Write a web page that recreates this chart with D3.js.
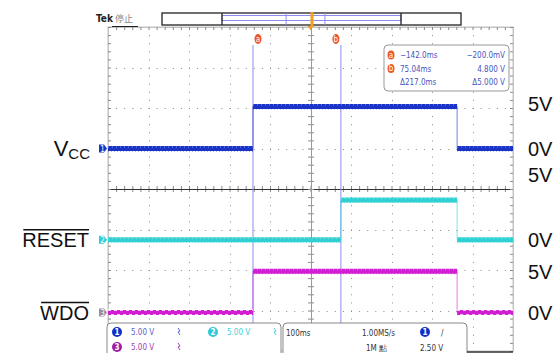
<!DOCTYPE html>
<html>
<head>
<meta charset="utf-8">
<script src="https://cdn.jsdelivr.net/npm/d3@7"></script>
<style>
  body { margin: 0; background: #fff; }
  svg { display: block; }
  .sm { font-family: "DejaVu Sans Condensed", "Liberation Sans Narrow", sans-serif; font-size: 8px; }
  .big { font-family: "Liberation Sans", Arial, sans-serif; font-size: 20px; fill: #111; }
</style>
</head>
<body>
<svg id="scope" width="560" height="353"></svg>
<script>
// time in ms, volts per channel
var timeDomain = [-500, 500]
var divDomain = [-4, 4]
var voltsPerDiv = 5

var vccTimes  = [-500, -142, -142, 362, 362, 500]
var vccVolts  = [0, 0, 5.2, 5.2, 0, 0]
var rstTimes  = [-500, 75, 75, 362, 362, 500]
var rstVolts  = [0, 0, 4.9, 4.9, 0, 0]
var wdoTimes  = [-500, -142, -142, 362, 362, 500]
var wdoVolts  = [0, 0, 5.1, 5.1, 0, 0]

var chNames   = ['1', '2', '3']
var chOffsets = [1.0, -1.25, -3.05]   // ground position, in divisions
var chColors  = ['#1a34c8', '#2fd0d4', '#d21ed2']

var cursorTimes = [-142, 75.04]
var cursorLabels = ['a', 'b']
var readoutRows = [['−142.0ms', '−200.0mV'], ['75.04ms', '4.800 V'], ['Δ217.0ms', 'Δ5.000 V']]

var leftLabels  = ['V', 'RESET', 'WDO']
var rightLabels = ['5V', '0V', '5V', '0V', '5V', '0V']
var rightLabelDiv = [2.1, 1.0, 0.35, -1.25, -2.05, -3.05]   // layout: where each label sits

var svg = d3.select('#scope')
var x = d3.scaleLinear().domain(timeDomain).range([108, 513])
var y = d3.scaleLinear().domain(divDomain).range([351, 27])
var step = (x(100) - x(0)) / 5

// ---- graticule
var grid = svg.append('g')
var xDivs = d3.range(-4, 5).map(function(d){ return d * 100 })
var yDivs = d3.range(-3, 4)
var minorX = d3.range(-500, 501, 20)
var minorY = d3.range(-4, 4.01, 0.2)

grid.selectAll('line.vdot').data(xDivs.filter(function(d){ return d !== 0 })).enter()
  .append('line').attr('class', 'vdot')
  .attr('x1', function(d){ return Math.round(x(d)) + 0.5 }).attr('x2', function(d){ return Math.round(x(d)) + 0.5 })
  .attr('y1', y(4)).attr('y2', y(-4))
  .attr('stroke', '#8a8a8a').attr('stroke-width', 1).attr('stroke-dasharray', '1 ' + (step - 1))
grid.selectAll('line.hdot').data(yDivs.filter(function(d){ return d !== 0 })).enter()
  .append('line').attr('class', 'hdot')
  .attr('y1', function(d){ return Math.round(y(d)) + 0.5 }).attr('y2', function(d){ return Math.round(y(d)) + 0.5 })
  .attr('x1', x(-500)).attr('x2', x(500))
  .attr('stroke', '#8a8a8a').attr('stroke-width', 1).attr('stroke-dasharray', '1 ' + (step - 1))

grid.append('rect').attr('x', x(-500)).attr('y', y(4))
  .attr('width', x(500) - x(-500)).attr('height', y(-4) - y(4))
  .attr('fill', 'none').attr('stroke', '#c4c4c4')

// center lines and edges with ticks, through d3 axes
function tickAxis(axis, tx, ty, domainColor){
  var g = grid.append('g').attr('transform', 'translate(' + tx + ',' + ty + ')')
    .call(axis.tickSize(3).tickSizeOuter(0).tickFormat(''))
  g.select('path.domain').attr('stroke', domainColor)
  g.selectAll('.tick line').attr('stroke', '#8a8a8a')
}
tickAxis(d3.axisBottom(x).tickValues(minorX), 0, Math.round(y(0)), '#333')
tickAxis(d3.axisTop(x).tickValues(minorX), 0, Math.round(y(0)), '#333')
tickAxis(d3.axisRight(y).tickValues(minorY), Math.round(x(0)), 0, '#999')
tickAxis(d3.axisLeft(y).tickValues(minorY), Math.round(x(0)), 0, '#999')
tickAxis(d3.axisBottom(x).tickValues(minorX), 0, y(4), '#c4c4c4')
tickAxis(d3.axisRight(y).tickValues(minorY), x(-500), 0, '#c4c4c4')
tickAxis(d3.axisLeft(y).tickValues(minorY), x(500), 0, '#c4c4c4')

// ---- cursors
cursorTimes.forEach(function(t){
  svg.append('line').attr('x1', x(t)).attr('x2', x(t)).attr('y1', 45).attr('y2', 330)
    .attr('stroke', '#8c8cf0').attr('stroke-width', 1)
})

// ---- traces
var traces = [[vccTimes, vccVolts], [rstTimes, rstVolts], [wdoTimes, wdoVolts]]
traces.forEach(function(tr, c){
  var g = svg.append('g')
  var ty = function(v){ return y(chOffsets[c] + v / voltsPerDiv) }
  for (var i = 1; i < tr[0].length; i++) {
    var t0 = tr[0][i-1], t1 = tr[0][i], v0 = tr[1][i-1], v1 = tr[1][i]
    if (t0 === t1) {
      g.append('line').attr('x1', x(t0)).attr('x2', x(t1)).attr('y1', ty(v0)).attr('y2', ty(v1))
        .attr('stroke', chColors[c]).attr('stroke-width', 1).attr('opacity', 0.6)
    } else {
      g.append('line').attr('x1', x(t0)).attr('x2', x(t1)).attr('y1', ty(v0)).attr('y2', ty(v1))
        .attr('stroke', chColors[c]).attr('stroke-width', 5)
      if (c === 2 && v0 === 0) {
        // ripple look on the low level
        g.append('line').attr('x1', x(t0)).attr('x2', x(t1)).attr('y1', ty(v0) - 2.5).attr('y2', ty(v1) - 2.5)
          .attr('stroke', '#fff').attr('stroke-width', 1.5).attr('stroke-dasharray', '3 3')
        g.append('line').attr('x1', x(t0)).attr('x2', x(t1)).attr('y1', ty(v0) + 2.5).attr('y2', ty(v1) + 2.5)
          .attr('stroke', '#fff').attr('stroke-width', 1.5).attr('stroke-dasharray', '3 3').attr('stroke-dashoffset', 3)
      } else {
        g.append('line').attr('x1', x(t0)).attr('x2', x(t1)).attr('y1', ty(v0) - 1.5).attr('y2', ty(v1) - 1.5)
          .attr('stroke', '#fff').attr('stroke-width', 1).attr('stroke-dasharray', '1 3').attr('opacity', 0.45)
        g.append('line').attr('x1', x(t0)).attr('x2', x(t1)).attr('y1', ty(v0) + 2.5).attr('y2', ty(v1) + 2.5)
          .attr('stroke', chColors[c]).attr('stroke-width', 1).attr('stroke-dasharray', '1 2').attr('opacity', 0.7)
      }
    }
  }
  // channel marker on the left edge
  var my = ty(0)
  var markColor = c === 2 ? '#9a8c9a' : chColors[c]
  svg.append('path')
    .attr('d', 'M99,' + (my - 4) + 'h5l3,4l-3,4h-5z')
    .attr('fill', markColor)
  svg.append('text').attr('class', 'sm').attr('x', 102.5).attr('y', my + 3)
    .attr('text-anchor', 'middle').attr('font-size', 7).attr('fill', '#fff').text(chNames[c])
})

// ---- right-side level labels
rightLabels.forEach(function(l, i){
  svg.append('text').attr('class', 'big').attr('x', 528)
    .attr('y', y(rightLabelDiv[i]) + 7).text(l)
})

// ---- left signal labels
var vy = y(chOffsets[0]) + 7
var vcc = svg.append('text').attr('class', 'big').attr('x', 90).attr('y', vy).attr('text-anchor', 'end')
vcc.append('tspan').attr('font-size', 22).text(leftLabels[0])
vcc.append('tspan').attr('font-size', 15).attr('dy', 3).text('CC')
;[1, 2].forEach(function(c){
  var ly = y(chOffsets[c]) + 7
  var t = svg.append('text').attr('class', 'big').attr('x', 89).attr('y', ly)
    .attr('text-anchor', 'end').text(leftLabels[c])
  var bb = t.node().getBBox()
  svg.append('line').attr('x1', bb.x + 1).attr('x2', bb.x + bb.width)
    .attr('y1', ly - 17).attr('y2', ly - 17).attr('stroke', '#111').attr('stroke-width', 1.5)
})

// ---- header
svg.append('text').attr('x', 96).attr('y', 22)
  .style('font-family', 'DejaVu Sans Condensed, sans-serif').style('font-size', '10px').style('font-weight', 'bold')
  .attr('fill', '#222').text('Tek')
svg.append('text').attr('x', 115).attr('y', 22)
  .style('font-family', 'Noto Sans CJK TC, sans-serif').style('font-size', '9px')
  .attr('fill', '#888').text('停止')
svg.append('line').attr('x1', 112).attr('x2', 138).attr('y1', 26.5).attr('y2', 26.5).attr('stroke', '#222')

var barX = d3.scaleLinear().domain(timeDomain).range([222, 401])
svg.append('rect').attr('x', 162).attr('y', 13).attr('width', 299).attr('height', 12)
  .attr('fill', '#fff').attr('stroke', '#222').attr('stroke-width', 1.3)
svg.append('rect').attr('x', barX(-500)).attr('y', 15.5).attr('width', barX(500) - barX(-500)).attr('height', 5)
  .attr('fill', 'none').attr('stroke', '#8c8cf0')
;[-500, 500].forEach(function(t){
  svg.append('line').attr('x1', barX(t)).attr('x2', barX(t)).attr('y1', 13).attr('y2', 25).attr('stroke', '#222').attr('stroke-width', 1.3)
})
cursorTimes.forEach(function(t){
  svg.append('line').attr('x1', barX(t)).attr('x2', barX(t)).attr('y1', 13).attr('y2', 25).attr('stroke', '#8c8cf0')
})
svg.append('rect').attr('x', barX(0) - 1).attr('y', 12).attr('width', 3).attr('height', 15).attr('fill', '#f0a020')
svg.append('path').attr('d', 'M' + (x(0) - 3) + ',26h6l-3,4z').attr('fill', '#f0a020')

// cursor tags
cursorTimes.forEach(function(t, i){
  var cx = x(t) + (i === 0 ? 5 : -5)
  svg.append('ellipse').attr('cx', cx).attr('cy', 39).attr('rx', 3.5).attr('ry', 5).attr('fill', '#ee5522')
  svg.append('text').attr('class', 'sm').attr('x', cx).attr('y', 41.5).attr('text-anchor', 'middle')
    .attr('font-size', 7).attr('fill', '#fff').text(cursorLabels[i])
})

// cursor readout box
svg.append('rect').attr('x', 384).attr('y', 45).attr('width', 125).attr('height', 46).attr('rx', 4)
  .attr('fill', '#fff').attr('stroke', '#999')
readoutRows.forEach(function(r, i){
  var ry = 58 + i * 13.5
  if (i < 2) {
    svg.append('ellipse').attr('cx', 391).attr('cy', ry - 3).attr('rx', 3.5).attr('ry', 4.5).attr('fill', '#ee5522')
    svg.append('text').attr('class', 'sm').attr('x', 391).attr('y', ry - 0.5).attr('text-anchor', 'middle')
      .attr('font-size', 7).attr('fill', '#fff').text(cursorLabels[i])
  }
  svg.append('text').attr('class', 'sm').attr('x', 400).attr('y', ry).attr('fill', '#4656c0').text(r[0])
  svg.append('text').attr('class', 'sm').attr('x', 505).attr('y', ry).attr('text-anchor', 'end').attr('fill', '#4656c0').text(r[1])
})

// ---- status panel
function tab(x0, x1){
  svg.append('path').attr('d', 'M' + x0 + ',356V327q0,-4 4,-4H' + (x1 - 4) + 'q4,0 4,4V356')
    .attr('fill', '#fff').attr('stroke', '#888')
}
tab(107, 281)
tab(283, 467)
svg.append('line').attr('x1', 467).attr('x2', 513).attr('y1', 352).attr('y2', 352).attr('stroke', '#333').attr('stroke-width', 1.5)

var chInfo = [
  { n: '1', x: 117, y: 332, c: '#1030c8', t: '#5a60c8' },
  { n: '2', x: 213, y: 332, c: '#30c8d8', t: '#40d0d8' },
  { n: '3', x: 117, y: 347, c: '#a01ca0', t: '#a040b0' }
]
chInfo.forEach(function(d){
  svg.append('circle').attr('cx', d.x).attr('cy', d.y).attr('r', 5).attr('fill', d.c)
  svg.append('text').attr('class', 'sm').attr('x', d.x).attr('y', d.y + 3).attr('text-anchor', 'middle')
    .attr('fill', '#fff').attr('font-weight', 'bold').text(d.n)
  svg.append('text').attr('class', 'sm').attr('x', d.x + 14).attr('y', d.y + 3).attr('fill', d.t).text(voltsPerDiv.toFixed(2) + ' V')
  var sx = d.x + 61
  svg.append('path').attr('d', 'M' + sx + ',' + (d.y - 4) + 'l2,3l-2,1l2,3')
    .attr('fill', 'none').attr('stroke', d.t).attr('stroke-width', 1)
})

svg.append('text').attr('class', 'sm').attr('x', 286).attr('y', 336).attr('fill', '#333').text('100ms')
svg.append('text').attr('class', 'sm').attr('x', 362).attr('y', 336).attr('fill', '#333').text('1.00MS/s')
svg.append('text').attr('class', 'sm').attr('x', 366).attr('y', 351).attr('fill', '#333').text('1M 點')
svg.append('circle').attr('cx', 425).attr('cy', 332).attr('r', 5).attr('fill', '#1030c8')
svg.append('text').attr('class', 'sm').attr('x', 425).attr('y', 335).attr('text-anchor', 'middle')
  .attr('fill', '#fff').attr('font-weight', 'bold').text('1')
svg.append('text').attr('class', 'sm').attr('x', 441).attr('y', 336).attr('fill', '#333').text('/')
svg.append('text').attr('class', 'sm').attr('x', 420).attr('y', 351).attr('fill', '#333').text('2.50 V')
</script>
</body>
</html>
